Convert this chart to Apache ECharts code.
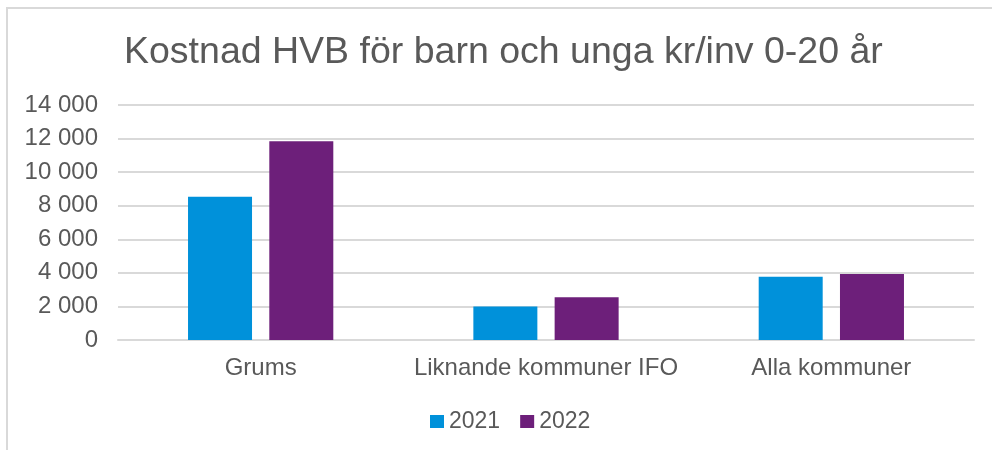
<!DOCTYPE html>
<html>
<head>
<meta charset="utf-8">
<script src="https://cdn.jsdelivr.net/npm/echarts@6/dist/echarts.min.js"></script>
<style>
html,body{margin:0;padding:0;background:#fff;}
#c{width:992px;height:450px;}
</style>
</head>
<body>
<div id="c"></div>
<script>
var categories = ['Grums', 'Liknande kommuner IFO', 'Alla kommuner'];
var seriesNames = ['2021', '2022'];
var values2021 = [8540, 1990, 3770];
var values2022 = [11840, 2540, 3930];
var titleText = 'Kostnad HVB för barn och unga kr/inv 0-20 år';

var chart = echarts.init(document.getElementById('c'), null, {renderer: 'canvas'});
var font = '"Liberation Sans", Arial, sans-serif';
var txt = '#595959';
chart.setOption({
  animation: false,
  backgroundColor: '#fff',
  title: {
    text: titleText,
    left: 119,
    top: 29,
    textStyle: {fontFamily: font, fontSize: 37.5, fontWeight: 'normal', color: txt}
  },
  graphic: [{
    type: 'polyline',
    shape: {points: [[7, 450], [7, 8], [992, 8]]},
    style: {stroke: '#d9d9d9', lineWidth: 2, fill: null},
    silent: true
  }],
  legend: {
    data: seriesNames,
    left: 425,
    top: 405,
    itemWidth: 14,
    itemHeight: 13,
    itemGap: 20,
    icon: 'rect',
    textStyle: {fontFamily: font, fontSize: 23, color: txt}
  },
  grid: {left: 118, right: 18, top: 105, bottom: 110, containLabel: false},
  xAxis: {
    type: 'category',
    data: categories,
    axisLine: {lineStyle: {color: '#d9d9d9', width: 2}},
    axisTick: {show: false},
    axisLabel: {fontFamily: font, fontSize: 24, color: txt, margin: 16, interval: 0}
  },
  yAxis: {
    type: 'value',
    min: 0,
    max: 14000,
    interval: 2000,
    axisLine: {show: false},
    axisTick: {show: false},
    splitLine: {lineStyle: {color: '#d9d9d9', width: 2}},
    axisLabel: {
      fontFamily: font, fontSize: 24, color: txt, margin: 20,
      formatter: function (v) { return String(v).replace(/\B(?=(\d{3})+(?!\d))/g, ' '); }
    }
  },
  series: [
    {name: seriesNames[0], type: 'bar', data: values2021, barWidth: 64, barGap: '27%',
     itemStyle: {color: '#0091DA'}},
    {name: seriesNames[1], type: 'bar', data: values2022, barWidth: 64,
     itemStyle: {color: '#6D1F7A'}}
  ]
});
</script>
</body>
</html>
